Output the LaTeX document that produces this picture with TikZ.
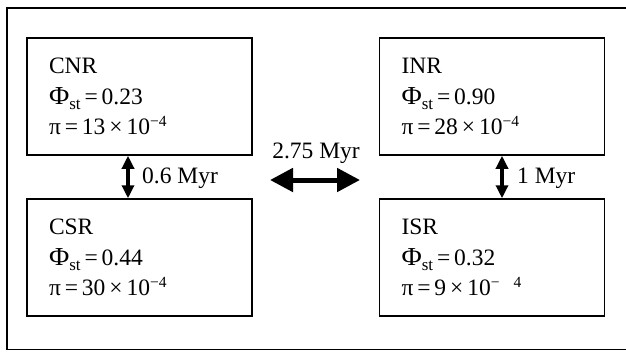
\documentclass[tikz,border=0pt]{standalone}
\usepackage{fontspec}
\setmainfont{Liberation Serif}
\usetikzlibrary{arrows.meta}
\newcommand\mysub[1]{\raisebox{-5.5pt}{\fontsize{17}{17}\selectfont #1}}
\newcommand\mysup[1]{\raisebox{8.5pt}{\fontsize{15.5}{15.5}\selectfont #1}}
\newcommand\myPhi{\scalebox{1.18}[1.1]{Φ}}
\tikzset{
  popbox/.style={draw, line width=1.5pt, rectangle, inner xsep=22pt, inner ysep=0pt,
    text width=181pt, minimum height=117pt, align=left,
    font=\fontsize{23.5}{30.5}\selectfont},
  lbl/.style={inner sep=0pt, font=\fontsize{23.5}{28}\selectfont},
  vtime/.style={line width=3.5pt, {Triangle[length=13pt,width=12pt]}-{Triangle[length=13pt,width=12pt]}},
  htime/.style={line width=5pt, {Triangle[length=23pt,width=23pt]}-{Triangle[length=23pt,width=23pt]}},
}
\begin{document}
\begin{tikzpicture}[x=1pt,y=-1pt]
\useasboundingbox (0,0) rectangle (626,351);
\fill[white] (0,0) rectangle (626,351);
\begin{scope}
\clip (0,0) rectangle (626,351);
\draw[line width=1.8pt] (7,8) rectangle (640,349.5);
\end{scope}
\node[popbox] (CNR) at (139.5,96.5) {CNR\\ \myPhi\mysub{st}\,=\,0.23\\ π\,=\,13\,×\,10\mysup{−4}};
\node[popbox] (INR) at (492,96.5) {INR\\ \myPhi\mysub{st}\,=\,0.90\\ π\,=\,28\,×\,10\mysup{−4}};
\node[popbox] (CSR) at (139.5,257.5) {CSR\\ \myPhi\mysub{st}\,=\,0.44\\ π\,=\,30\,×\,10\mysup{−4}};
\node[popbox] (ISR) at (492,257.5) {ISR\\ \myPhi\mysub{st}\,=\,0.32\\ π\,=\,9\,×\,10\mysup{−\hspace{14pt}4}};
\coordinate (la) at (128,0);
\coordinate (ra) at (502,0);
\draw[vtime] (la |- CNR.south) -- (la |- CSR.north);
\draw[vtime] (ra |- INR.south) -- (ra |- ISR.north);
\coordinate (h1) at (270,180);
\coordinate (h2) at (360,180);
\draw[htime] (h1) -- (h2);
\node[lbl, anchor=base] (t275) at (316,158) {2.75 Myr};
\node[lbl, anchor=base west] (t06) at (142,183) {0.6 Myr};
\node[lbl, anchor=base west] (t1) at (517,183) {1 Myr};
\end{tikzpicture}
\end{document}
